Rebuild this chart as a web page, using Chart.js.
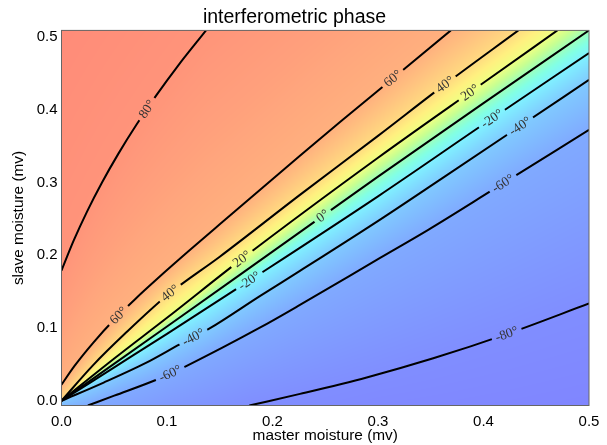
<!DOCTYPE html>
<html>
<head>
<meta charset="utf-8">
<script src="https://cdn.jsdelivr.net/npm/chart.js@4.4.1/dist/chart.umd.min.js"></script>
<style>html,body{margin:0;padding:0;background:#fff}</style>
</head>
<body>
<canvas id="phase" width="607" height="445"></canvas>
<script>
const xTicks = [0, 0.1, 0.2, 0.3, 0.4, 0.5];
const yTicks = [0, 0.1, 0.2, 0.3, 0.4, 0.5];

// contour lines as [master, slave] pairs
const line80 = [[0,0.179],[0.0115,0.22],[0.0242,0.26],[0.0384,0.30],[0.0541,0.34],[0.0713,0.38],[0.09,0.42],[0.1102,0.46],[0.137,0.509]];
const line60 = [[0,0.022],[0.012,0.0472],[0.03,0.0796],[0.05,0.1116],[0.07,0.14],[0.09,0.1666],[0.12,0.205],[0.15,0.2425],[0.226,0.3367],[0.264,0.383],[0.314,0.443],[0.369,0.509]];
const line40 = [[0,0],[0.03,0.049],[0.06,0.092],[0.101,0.146],[0.15,0.198],[0.226,0.283],[0.3,0.364],[0.36,0.431],[0.433,0.509]];
const line20 = [[0,0],[0.05,0.058],[0.1,0.114],[0.171,0.195],[0.3,0.334],[0.4,0.437],[0.47,0.509]];
const line0 = [[0,0],[0.1,0.102],[0.2,0.205],[0.3,0.308],[0.4,0.409],[0.5,0.509]];
const lineM20 = [[0,0],[0.05,0.046],[0.1,0.092],[0.178,0.165],[0.3,0.281],[0.4,0.38],[0.5,0.478]];
const lineM40 = [[0,0],[0.04,0.025],[0.08,0.052],[0.112,0.0775],[0.14,0.099],[0.188,0.1438],[0.226,0.1785],[0.302,0.249],[0.36,0.305],[0.427,0.37],[0.5,0.441]];
const lineM60 = [[0.025,-0.0065],[0.05,0.007],[0.0934,0.031],[0.1187,0.048],[0.188,0.1004],[0.226,0.1317],[0.302,0.1964],[0.348,0.2353],[0.409,0.2901],[0.5,0.3724]];
const lineM80 = [[0.178,-0.0065],[0.2261,0.0095],[0.2893,0.0321],[0.3524,0.0584],[0.422,0.0916],[0.5,0.1337]];

const levels = [80, 60, 40, 20, 0, -20, -40, -60, -80];
const lines = [line80, line60, line40, line20, line0, lineM20, lineM40, lineM60, lineM80];

// where the labels sit on the lines (master moisture)
const labelLevels = [80, 60, 60, 40, 40, 20, 20, 0, -20, -20, -40, -40, -60, -60, -80];
const labelX = [0.081, 0.054, 0.314, 0.103, 0.3635, 0.171, 0.387, 0.2476, 0.178, 0.408, 0.125, 0.4346, 0.103, 0.4185, 0.422];

// phase along the top and bottom edges of the plot
const topEdgeX = [0, 0.137, 0.25, 0.369, 0.433, 0.47, 0.5];
const topEdgePhase = [87, 80, 70, 60, 40, 20, 0];
const bottomEdgeX = [0, 0.025, 0.1, 0.178, 0.3, 0.5];
const bottomEdgePhase = [-50, -60, -72, -80, -84, -87];

// colour table (phase in degrees -> rgb)
const colorPhases = [90, 80, 70, 60, 50, 40, 30, 20, 10, 0, -10, -20, -30, -40, -50, -60, -70, -80, -90];
const colorStops = [
  [255,136,120],[255,148,122],[255,160,124],[255,176,126],[255,196,128],[255,218,128],[255,240,128],
  [240,255,130],[200,255,145],[158,255,185],[130,255,228],[128,242,255],[128,222,255],[128,202,255],
  [128,186,255],[128,170,255],[128,156,255],[128,142,255],[128,130,255]
];

const Y_MIN = -0.0065, Y_MAX = 0.509;
const SANS = '"Liberation Sans", Arial, Helvetica, sans-serif';

function edgeAt(xs, ps, x) {
  if (x <= xs[0]) return ps[0];
  for (let i = 1; i < xs.length; i++) {
    if (x <= xs[i]) return ps[i-1] + (ps[i] - ps[i-1]) * (x - xs[i-1]) / (xs[i] - xs[i-1]);
  }
  return ps[ps.length - 1];
}

function lineAt(ln, x) {
  if (x < ln[0][0] || x > ln[ln.length-1][0]) return null;
  for (let i = 1; i < ln.length; i++) {
    if (x <= ln[i][0]) {
      const a = ln[i-1], b = ln[i];
      return a[1] + (b[1] - a[1]) * (x - a[0]) / (b[0] - a[0]);
    }
  }
  return null;
}

function phaseColor(p) {
  if (p >= colorPhases[0]) return colorStops[0];
  for (let i = 1; i < colorPhases.length; i++) {
    if (p >= colorPhases[i]) {
      const t = (colorPhases[i-1] - p) / (colorPhases[i-1] - colorPhases[i]);
      const a = colorStops[i-1], b = colorStops[i];
      return [a[0]+(b[0]-a[0])*t, a[1]+(b[1]-a[1])*t, a[2]+(b[2]-a[2])*t];
    }
  }
  return colorStops[colorStops.length-1];
}

// fills the plot area with the phase colours, interpolated between the contour lines
const phaseBackground = {
  id: 'phaseBackground',
  beforeDatasetsDraw(chart) {
    const a = chart.chartArea;
    const L = Math.floor(a.left), T = Math.floor(a.top);
    const W = Math.ceil(a.right) - L, H = Math.ceil(a.bottom) - T;
    const key = [L, T, W, H].join();
    if (!this.bg || this.key !== key) {
      const off = document.createElement('canvas');
      off.width = W; off.height = H;
      const octx = off.getContext('2d');
      const img = octx.createImageData(W, H);
      const sx = chart.scales.x, sy = chart.scales.y;
      const rowY = [];
      for (let r = 0; r < H; r++) rowY.push(sy.getValueForPixel(T + r + 0.5));
      for (let c = 0; c < W; c++) {
        const x = sx.getValueForPixel(L + c + 0.5);
        const nodes = [[Y_MIN, edgeAt(bottomEdgeX, bottomEdgePhase, x)]];
        lines.forEach((ln, i) => {
          const y = lineAt(ln, x);
          if (y !== null) nodes.push([y, levels[i]]);
        });
        nodes.push([Y_MAX, edgeAt(topEdgeX, topEdgePhase, x)]);
        nodes.sort((p, q) => p[0] - q[0]);
        let k = 0;
        for (let r = H - 1; r >= 0; r--) {
          const y = rowY[r];
          while (k < nodes.length - 2 && y > nodes[k+1][0]) k++;
          const n0 = nodes[k], n1 = nodes[k+1];
          let t = n1[0] > n0[0] ? (y - n0[0]) / (n1[0] - n0[0]) : 0;
          t = Math.max(0, Math.min(1, t));
          const col = phaseColor(n0[1] + (n1[1] - n0[1]) * t);
          const o = (r * W + c) * 4;
          img.data[o] = col[0]; img.data[o+1] = col[1]; img.data[o+2] = col[2]; img.data[o+3] = 255;
        }
      }
      octx.putImageData(img, 0, 0);
      this.bg = off; this.key = key; this.L = L; this.T = T;
    }
    chart.ctx.drawImage(this.bg, L, T);
  },
  afterDatasetsDraw(chart) {
    const ctx = chart.ctx, a = chart.chartArea;
    const sx = chart.scales.x, sy = chart.scales.y;
    ctx.save();
    ctx.font = '13.5px "Liberation Serif", "Times New Roman", serif';
    labelLevels.forEach((lev, i) => {
      const ln = lines[levels.indexOf(lev)];
      const lx = labelX[i];
      const x1 = Math.max(ln[0][0], lx - 0.008), x2 = Math.min(ln[ln.length-1][0], lx + 0.008);
      const px = sx.getPixelForValue(lx), py = sy.getPixelForValue(lineAt(ln, lx));
      const ang = Math.atan2(sy.getPixelForValue(lineAt(ln, x2)) - sy.getPixelForValue(lineAt(ln, x1)),
                             sx.getPixelForValue(x2) - sx.getPixelForValue(x1));
      const text = lev + '°';
      const w = ctx.measureText(text).width + 8;
      // gap in the line
      ctx.save();
      ctx.translate(px, py); ctx.rotate(ang);
      ctx.beginPath(); ctx.rect(-w/2, -5, w, 10);
      ctx.setTransform(1, 0, 0, 1, 0, 0);
      ctx.clip();
      ctx.drawImage(this.bg, this.L, this.T);
      ctx.restore();
      ctx.save();
      ctx.translate(px, py); ctx.rotate(ang);
      ctx.fillStyle = '#333';
      ctx.textAlign = 'center'; ctx.textBaseline = 'middle';
      ctx.fillText(text, 0, 0.5);
      ctx.restore();
    });
    ctx.strokeStyle = '#666';
    ctx.lineWidth = 1;
    ctx.strokeRect(a.left, a.top, a.right - a.left, a.bottom - a.top);
    ctx.restore();
  }
};

const datasets = lines.map((ln, i) => ({
  label: levels[i] + '°',
  data: ln.map(p => ({x: p[0], y: p[1]})),
  showLine: true,
  borderColor: '#000',
  borderWidth: 2,
  pointRadius: 0,
  cubicInterpolationMode: 'monotone'
}));

new Chart(document.getElementById('phase').getContext('2d'), {
  type: 'scatter',
  data: { datasets },
  plugins: [phaseBackground],
  options: {
    responsive: false,
    animation: false,
    devicePixelRatio: 1,
    events: [],
    layout: { padding: { left: 0, right: 18, top: 0, bottom: 0 } },
    plugins: {
      legend: { display: false },
      tooltip: { enabled: false },
      title: {
        display: true,
        text: 'interferometric phase',
        color: '#000',
        font: { family: SANS, size: 19.5, weight: 'normal' },
        padding: { top: 6, bottom: 1 }
      }
    },
    scales: {
      x: {
        type: 'linear', min: 0, max: 0.5,
        afterBuildTicks: s => { s.ticks = xTicks.map(v => ({ value: v })); },
        afterFit: s => { s.height = 39.5; },
        grid: { display: false, drawTicks: false },
        border: { display: false },
        ticks: { padding: 7, color: '#000', autoSkip: false, maxRotation: 0,
                 font: { family: SANS, size: 15 }, callback: v => v.toFixed(1) },
        title: { display: true, text: 'master moisture (mv)', color: '#000',
                 font: { family: SANS, size: 15.4 }, padding: { top: 0, bottom: 0 } }
      },
      y: {
        type: 'linear', min: Y_MIN, max: Y_MAX,
        afterBuildTicks: s => { s.ticks = yTicks.map(v => ({ value: v })); },
        afterFit: s => { s.width = 61.5; },
        grid: { display: false, drawTicks: false },
        border: { display: false },
        ticks: { padding: 4, color: '#000', autoSkip: false,
                 font: { family: SANS, size: 15 }, callback: v => v.toFixed(1) },
        title: { display: true, text: 'slave moisture (mv)', color: '#000',
                 font: { family: SANS, size: 15.4 }, padding: { top: 10, bottom: 0 } }
      }
    }
  }
});
</script>
</body>
</html>
